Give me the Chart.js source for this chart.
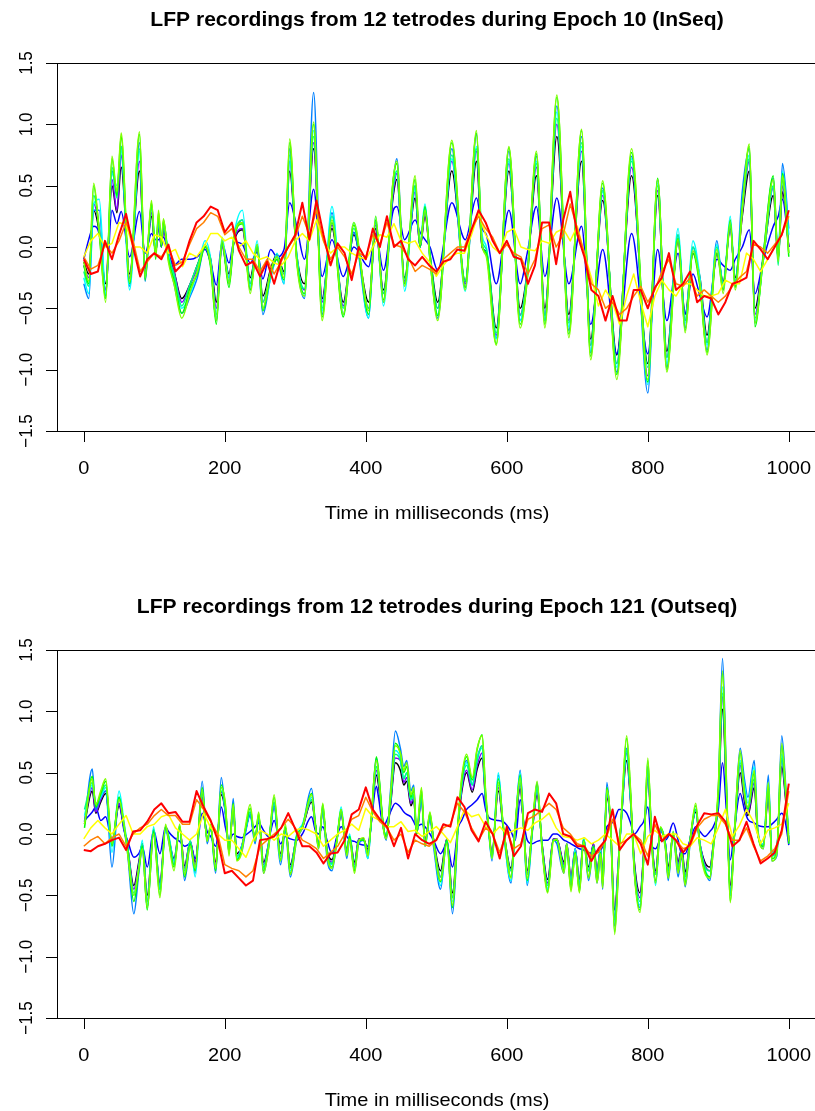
<!DOCTYPE html>
<html>
<head>
<meta charset="utf-8">
<script src="https://cdn.jsdelivr.net/npm/chart.js"></script>
<style>
html, body { margin: 0; padding: 0; background: #fff; overflow: hidden; }
#wrap { position: relative; width: 815px; height: 1111px; overflow: hidden; background: #fff; }
canvas { position: absolute; left: 0; }
</style>
</head>
<body>
<div id="wrap">
    <canvas id="epoch10" width="830" height="587" style="top:0"></canvas>
    <canvas id="epoch121" width="830" height="524" style="top:587px"></canvas>
</div>
<script>
"use strict";

// axis ticks (same on both panels)
const xTicks = [0, 200, 400, 600, 800, 1000]
const yTicks = [-1.5, -1.0, -0.5, 0.0, 0.5, 1.0, 1.5]
const yTickLabels = ['\u22121.5', '\u22121.0', '\u22120.5', '0.0', '0.5', '1.0', '1.5']
const titles = ['LFP recordings from 12 tetrodes during Epoch 10 (InSeq)', 'LFP recordings from 12 tetrodes during Epoch 121 (Outseq)']
const xLabel = 'Time in milliseconds (ms)'

// slow tetrodes (yellow / orange / red) are read every 10 ms
const tSlow = Array.from({ length: 101 }, (_, i) => i * 10)

// ---------- Epoch 10 (InSeq) ----------
// fast tetrodes, read at their turning points
const tFast10 = [0, 7, 14, 22, 31, 40, 47, 53, 65, 79,
    87, 96, 102, 106, 110, 113, 120, 128, 139, 151,
    161, 172, 180, 188, 196, 206, 213, 225, 236, 246,
    254, 265, 274, 284, 292, 302, 313, 326, 338, 352,
    368, 383, 404, 414, 425, 439, 444, 455, 470, 477,
    484, 491, 502, 522, 541, 557, 565, 571, 585, 603,
    619, 629, 642, 654, 671, 688, 706, 719, 736, 756,
    777, 800, 814, 827, 843, 853, 864, 874, 884, 898,
    907, 917, 924, 934, 944, 952, 964, 978, 985, 991,
    1000]
const black10 = [-0.12, -0.22, 0.3, 0.12, -0.3, 0.5, 0.28, 0.65, -0.22, 0.62,
    -0.18, 0.25, -0.05, 0.18, 0.0, 0.14, -0.06, -0.2, -0.42, -0.3,
    -0.15, 0.0, -0.1, -0.45, 0.02, -0.22, 0.04, 0.14, -0.25, 0.0,
    -0.4, -0.18, -0.06, -0.2, 0.62, -0.06, -0.3, 0.8, -0.42, 0.15,
    -0.45, 0.1, -0.45, 0.15, -0.35, 0.42, 0.55, -0.25, 0.4, 0.0,
    0.25, -0.06, -0.45, 0.62, -0.28, 0.7, 0.0, -0.04, -0.66, 0.62,
    -0.5, -0.2, 0.58, -0.5, 0.9, -0.55, 0.7, -0.75, 0.38, -0.88,
    0.58, -0.95, 0.42, -0.85, 0.05, -0.55, -0.05, -0.25, -0.72, -0.05,
    -0.28, 0.15, -0.25, 0.25, 0.62, -0.5, -0.08, 0.42, -0.1, 0.45,
    0.0]
const blue10 = [-0.1, 0.06, 0.17, 0.1, -0.35, 0.3, 0.19, 0.29, -0.08, 0.29,
    -0.05, 0.11, 0.06, 0.06, 0.08, 0.08, -0.05, -0.15, -0.1, -0.1,
    -0.08, -0.02, -0.13, -0.31, 0.03, -0.13, 0.04, 0.02, -0.13, -0.04,
    -0.26, -0.02, -0.08, -0.02, 0.36, 0.17, -0.1, 0.47, -0.24, 0.06,
    -0.24, 0.0, -0.16, 0.11, -0.19, 0.3, 0.33, 0.06, 0.22, 0.12,
    0.06, 0.0, -0.19, 0.36, 0.06, 0.4, 0.15, 0.1, -0.3, 0.3,
    -0.3, -0.05, 0.33, -0.24, 0.4, -0.3, 0.17, -0.63, -0.02, -0.87,
    0.11, -0.87, -0.02, -0.6, -0.05, -0.54, -0.22, -0.4, -0.57, -0.1,
    -0.15, -0.19, -0.1, 0.0, 0.14, -0.38, -0.1, 0.17, 0.25, 0.39,
    0.0]
const purple10 = [-0.15, -0.25, 0.35, 0.15, -0.35, 0.55, 0.3, 0.75, -0.25, 0.7,
    -0.2, 0.28, -0.05, 0.2, 0.0, 0.15, -0.08, -0.2, -0.45, -0.3,
    -0.18, 0.0, -0.12, -0.5, 0.0, -0.25, 0.05, 0.15, -0.3, 0.0,
    -0.45, -0.2, -0.08, -0.22, 0.7, -0.08, -0.35, 0.85, -0.45, 0.18,
    -0.48, 0.12, -0.5, 0.18, -0.38, 0.45, 0.6, -0.28, 0.45, 0.0,
    0.28, -0.08, -0.5, 0.7, -0.3, 0.78, 0.0, -0.05, -0.72, 0.68,
    -0.55, -0.22, 0.65, -0.55, 1.0, -0.6, 0.78, -0.8, 0.42, -0.95,
    0.65, -1.05, 0.46, -0.9, 0.05, -0.6, -0.05, -0.28, -0.78, -0.05,
    -0.3, 0.18, -0.28, 0.28, 0.7, -0.55, -0.08, 0.48, -0.1, 0.5,
    0.0]
const azure10 = [-0.3, -0.42, 0.3, 0.3, -0.4, 0.62, 0.45, 0.82, -0.32, 0.85,
    -0.28, 0.32, -0.05, 0.2, 0.0, 0.18, -0.08, -0.3, -0.54, -0.4,
    -0.25, 0.0, -0.15, -0.6, 0.05, -0.3, 0.05, 0.22, -0.35, 0.0,
    -0.55, -0.25, -0.1, -0.3, 0.8, -0.1, -0.42, 1.26, -0.55, 0.28,
    -0.55, 0.12, -0.58, 0.22, -0.45, 0.55, 0.72, -0.3, 0.5, 0.0,
    0.32, -0.1, -0.58, 0.8, -0.33, 0.92, 0.02, -0.05, -0.74, 0.78,
    -0.6, -0.25, 0.74, -0.6, 1.15, -0.68, 0.9, -0.86, 0.48, -1.02,
    0.74, -1.19, 0.55, -0.98, 0.1, -0.66, 0.0, -0.3, -0.84, 0.05,
    -0.35, 0.2, -0.32, 0.45, 0.8, -0.62, -0.05, 0.56, -0.1, 0.68,
    0.15]
const cyan10 = [-0.25, -0.38, 0.35, 0.39, -0.38, 0.6, 0.5, 0.78, -0.35, 0.78,
    -0.25, 0.35, 0.0, 0.22, 0.05, 0.2, -0.05, -0.25, -0.5, -0.38,
    -0.2, 0.05, -0.1, -0.58, 0.08, -0.25, 0.1, 0.3, -0.32, 0.05,
    -0.5, -0.25, -0.05, -0.3, 0.7, -0.05, -0.4, 0.95, -0.52, 0.33,
    -0.55, 0.2, -0.58, 0.25, -0.48, 0.5, 0.62, -0.36, 0.48, 0.05,
    0.35, -0.1, -0.55, 0.72, -0.36, 0.82, 0.1, 0.0, -0.75, 0.7,
    -0.6, -0.2, 0.7, -0.6, 1.1, -0.65, 0.82, -0.85, 0.45, -0.98,
    0.72, -1.12, 0.52, -0.95, 0.15, -0.62, 0.05, -0.25, -0.8, 0.02,
    -0.32, 0.25, -0.3, 0.35, 0.75, -0.6, -0.1, 0.5, -0.05, 0.62,
    0.1]
const spring10 = [-0.2, -0.32, 0.42, 0.15, -0.4, 0.65, 0.4, 0.82, -0.26, 0.8,
    -0.22, 0.33, -0.06, 0.25, 0.02, 0.2, -0.08, -0.22, -0.48, -0.3,
    -0.15, 0.0, -0.12, -0.55, 0.02, -0.28, 0.08, 0.22, -0.3, 0.02,
    -0.45, -0.2, -0.08, -0.22, 0.75, -0.08, -0.34, 0.9, -0.5, 0.25,
    -0.5, 0.15, -0.5, 0.2, -0.38, 0.5, 0.62, -0.26, 0.5, 0.0,
    0.3, -0.05, -0.5, 0.75, -0.28, 0.8, 0.05, -0.02, -0.7, 0.72,
    -0.56, -0.22, 0.68, -0.56, 1.05, -0.62, 0.85, -0.8, 0.46, -0.95,
    0.7, -0.98, 0.5, -0.9, 0.1, -0.6, 0.0, -0.3, -0.78, 0.0,
    -0.3, 0.18, -0.28, 0.3, 0.72, -0.58, -0.1, 0.5, -0.15, 0.55,
    -0.05]
const green10 = [-0.15, -0.3, 0.5, 0.1, -0.42, 0.72, 0.42, 0.9, -0.3, 0.92,
    -0.27, 0.36, -0.1, 0.28, 0.0, 0.22, -0.1, -0.27, -0.54, -0.33,
    -0.22, 0.0, -0.17, -0.63, 0.04, -0.33, 0.06, 0.19, -0.35, 0.0,
    -0.52, -0.22, -0.1, -0.27, 0.85, -0.1, -0.38, 1.0, -0.57, 0.2,
    -0.57, 0.18, -0.55, 0.22, -0.43, 0.55, 0.68, -0.3, 0.55, 0.0,
    0.33, -0.08, -0.56, 0.85, -0.33, 0.93, 0.0, -0.05, -0.79, 0.81,
    -0.63, -0.27, 0.76, -0.63, 1.22, -0.71, 0.95, -0.89, 0.52, -1.04,
    0.77, -1.1, 0.56, -1.0, 0.07, -0.68, -0.05, -0.33, -0.86, -0.05,
    -0.35, 0.22, -0.33, 0.33, 0.82, -0.65, -0.05, 0.58, -0.1, 0.6,
    -0.08]
const lime10 = [-0.12, -0.28, 0.52, 0.12, -0.45, 0.74, 0.45, 0.93, -0.28, 0.94,
    -0.25, 0.38, -0.08, 0.3, 0.02, 0.23, -0.12, -0.3, -0.58, -0.36,
    -0.2, 0.02, -0.15, -0.6, 0.06, -0.3, 0.08, 0.2, -0.38, 0.02,
    -0.5, -0.2, -0.08, -0.25, 0.88, -0.12, -0.4, 1.02, -0.6, 0.22,
    -0.55, 0.2, -0.52, 0.25, -0.45, 0.56, 0.7, -0.32, 0.58, 0.02,
    0.3, -0.1, -0.6, 0.87, -0.35, 0.95, 0.02, -0.08, -0.8, 0.82,
    -0.66, -0.25, 0.78, -0.66, 1.24, -0.74, 0.96, -0.92, 0.54, -1.08,
    0.8, -1.08, 0.55, -1.02, 0.06, -0.7, -0.03, -0.3, -0.88, -0.02,
    -0.38, 0.2, -0.35, 0.3, 0.84, -0.62, -0.08, 0.55, -0.12, 0.58,
    -0.05]
const yellow10 = [-0.08, 0.05, 0.11, 0.0, 0.03, 0.2, 0.18, 0.0, 0.0, -0.05,
    0.1, 0.08, -0.05, -0.02, -0.16, -0.05, -0.08, 0.0, 0.11, 0.11,
    0.05, 0.08, 0.0, 0.05, -0.05, -0.1, -0.08, -0.13, -0.15, -0.08,
    0.05, 0.11, 0.05, 0.22, 0.05, -0.05, 0.0, 0.0, -0.05, -0.08,
    -0.1, 0.0, 0.1, 0.08, 0.19, 0.05, 0.03, 0.05, -0.05, -0.12,
    -0.24, -0.15, -0.08, -0.05, -0.05, 0.1, 0.28, 0.1, 0.0, -0.05,
    0.12, 0.15, 0.0, -0.02, -0.03, 0.05, 0.03, 0.12, 0.15, 0.05,
    0.17, -0.05, -0.25, -0.48, -0.35, -0.45, -0.63, -0.4, -0.22, -0.45,
    -0.65, -0.4, -0.27, -0.35, -0.4, -0.3, -0.3, -0.35, -0.4, -0.4,
    -0.38, -0.27, -0.3, -0.3, -0.05, -0.1, -0.2, -0.1, 0.0, 0.1,
    0.25]
const orange10 = [-0.08, -0.18, -0.15, 0.02, -0.05, 0.05, 0.2, 0.05, -0.2, -0.12,
    -0.05, -0.08, 0.0, -0.15, -0.12, 0.02, 0.15, 0.2, 0.28, 0.25,
    0.1, 0.15, 0.0, -0.1, -0.1, -0.2, -0.1, -0.22, -0.12, 0.0,
    0.08, 0.25, 0.1, 0.3, 0.05, -0.1, 0.0, -0.08, -0.22, -0.05,
    -0.08, 0.1, 0.02, 0.2, 0.02, 0.0, -0.08, -0.2, -0.15, -0.18,
    -0.22, -0.1, -0.05, 0.0, 0.0, 0.15, 0.25, 0.15, 0.08, -0.05,
    0.02, -0.05, -0.08, -0.22, -0.1, 0.15, 0.18, 0.0, 0.1, 0.35,
    0.15, -0.05, -0.3, -0.35, -0.5, -0.45, -0.55, -0.5, -0.4, -0.32,
    -0.45, -0.35, -0.2, -0.1, -0.3, -0.32, -0.25, -0.4, -0.35, -0.4,
    -0.45, -0.4, -0.32, -0.25, -0.2, 0.02, 0.0, -0.05, 0.02, 0.1,
    0.25]
const red10 = [-0.1, -0.22, -0.2, 0.05, -0.1, 0.1, 0.27, 0.0, -0.24, -0.1,
    -0.05, -0.1, 0.02, -0.2, -0.14, 0.05, 0.2, 0.25, 0.33, 0.3,
    0.12, 0.2, -0.03, -0.15, -0.12, -0.24, -0.12, -0.3, -0.1, 0.0,
    0.1, 0.36, 0.06, 0.38, 0.1, -0.15, 0.03, -0.05, -0.27, 0.0,
    -0.1, 0.15, 0.0, 0.25, 0.0, 0.05, -0.1, -0.15, -0.08, -0.15,
    -0.2, -0.12, -0.1, -0.02, -0.03, 0.14, 0.3, 0.2, 0.05, -0.05,
    0.05, -0.08, -0.1, -0.3, -0.15, 0.2, 0.2, -0.14, 0.22, 0.45,
    0.1, -0.08, -0.35, -0.4, -0.6, -0.4, -0.6, -0.6, -0.35, -0.35,
    -0.5, -0.33, -0.25, -0.05, -0.35, -0.3, -0.2, -0.45, -0.4, -0.42,
    -0.55, -0.45, -0.3, -0.28, -0.25, 0.05, -0.02, -0.1, 0.0, 0.1,
    0.3]

// ---------- Epoch 121 (Outseq) ----------
const tFast121 = [1, 12, 17, 24, 31, 40, 50, 57, 62, 71,
    78, 83, 90, 99, 108, 116, 120, 128, 136, 143,
    151, 158, 168, 175, 180, 187, 195, 201, 206, 212,
    217, 224, 229, 236, 243, 248, 255, 262, 270, 279,
    286, 293, 302, 310, 323, 329, 333, 339, 345, 352,
    359, 365, 373, 377, 384, 390, 397, 403, 407, 415,
    418, 425, 429, 435, 442, 449, 454, 458, 464, 468,
    472, 479, 484, 491, 496, 506, 515, 523, 531, 536,
    543, 551, 558, 565, 570, 574, 579, 588, 595, 606,
    612, 619, 624, 629, 636, 643, 650, 658, 666, 671,
    681, 685, 691, 697, 703, 709, 716, 723, 728, 733,
    736, 742, 747, 753, 759, 763, 770, 775, 781, 789,
    794, 800, 806, 811, 818, 825, 829, 836, 843, 848,
    853, 860, 868, 874, 881, 888, 893, 900, 906, 912,
    917, 923, 931, 937, 942, 951, 956, 964, 971, 976,
    983, 990, 995, 1000]
const black121 = [0.08, 0.35, 0.17, 0.26, 0.33, -0.08, 0.23, 0.05, -0.1, -0.42,
    -0.23, -0.08, -0.5, 0.02, -0.4, 0.05, -0.02, -0.2, 0.05, -0.26,
    -0.06, -0.23, 0.3, -0.04, 0.05, -0.23, 0.32, 0.17, -0.11, 0.19,
    -0.16, -0.1, 0.02, 0.16, -0.04, 0.13, -0.23, -0.08, 0.23, -0.16,
    0.05, -0.25, -0.02, 0.05, 0.26, 0.05, -0.08, 0.19, -0.13, -0.21,
    -0.04, 0.16, -0.13, -0.02, -0.23, -0.04, -0.04, -0.13, 0.05, 0.48,
    0.4, 0.05, -0.02, 0.23, 0.58, 0.52, 0.4, 0.43, 0.23, 0.28,
    0.0, 0.28, -0.06, 0.13, -0.04, -0.3, -0.04, -0.48, 0.08, 0.34,
    0.5, 0.34, 0.53, 0.62, 0.26, 0.05, -0.15, 0.35, 0.05, -0.28,
    0.05, 0.37, 0.05, -0.3, 0.02, 0.32, -0.08, -0.37, -0.04, -0.04,
    -0.23, -0.08, -0.35, -0.12, -0.37, -0.04, -0.27, -0.08, -0.3, -0.12,
    -0.33, 0.3, 0.08, -0.62, -0.16, 0.16, 0.6, 0.31, -0.23, -0.48,
    -0.16, 0.46, -0.08, -0.3, 0.04, -0.08, -0.27, 0.0, -0.23, -0.12,
    -0.31, -0.04, 0.18, -0.08, -0.23, -0.27, -0.08, 0.27, 1.02, 0.23,
    -0.42, 0.0, 0.5, 0.27, 0.15, 0.38, 0.0, -0.08, 0.31, -0.15,
    -0.12, 0.55, 0.31, -0.06]
const blue121 = [0.11, 0.18, 0.22, 0.11, 0.14, -0.05, 0.25, 0.03, -0.05, -0.19,
    -0.16, -0.1, -0.27, 0.03, -0.16, 0.06, 0.02, -0.03, -0.06, -0.1,
    -0.08, -0.2, 0.17, 0.02, -0.02, -0.1, 0.22, 0.05, -0.05, 0.0,
    -0.02, -0.03, -0.01, 0.02, 0.06, 0.09, 0.03, -0.02, 0.11, -0.08,
    -0.02, -0.04, -0.05, 0.0, 0.14, 0.02, 0.0, 0.06, -0.05, -0.16,
    -0.02, 0.06, -0.02, -0.05, -0.06, -0.08, -0.09, -0.1, 0.05, 0.39,
    0.3, 0.06, 0.1, 0.18, 0.25, 0.22, 0.18, 0.16, 0.14, 0.1,
    0.06, 0.08, 0.06, 0.0, -0.05, -0.16, -0.08, -0.27, 0.05, 0.11,
    0.2, 0.24, 0.28, 0.33, 0.2, 0.14, 0.12, 0.11, 0.1, 0.02,
    -0.05, 0.28, 0.1, -0.05, -0.08, -0.06, -0.05, -0.05, 0.0, 0.0,
    -0.05, -0.06, -0.08, -0.1, -0.12, -0.13, -0.15, -0.16, -0.14, -0.13,
    -0.1, 0.06, 0.08, 0.12, 0.2, 0.2, 0.17, 0.1, 0.0, 0.06,
    0.1, 0.22, -0.1, -0.12, -0.05, -0.05, -0.02, 0.09, -0.05, -0.16,
    -0.16, -0.05, 0.06, 0.02, -0.02, 0.02, 0.06, 0.2, 0.58, 0.15,
    -0.21, 0.05, 0.33, 0.2, 0.12, 0.09, 0.07, 0.06, 0.06, 0.08,
    0.12, 0.17, 0.1, -0.09]
const purple121 = [0.1, 0.38, 0.18, 0.28, 0.35, -0.08, 0.25, 0.05, -0.1, -0.45,
    -0.25, -0.08, -0.55, 0.02, -0.42, 0.05, -0.02, -0.22, 0.05, -0.28,
    -0.06, -0.25, 0.32, -0.05, 0.05, -0.25, 0.34, 0.18, -0.12, 0.2,
    -0.18, -0.1, 0.02, 0.17, -0.05, 0.14, -0.25, -0.08, 0.25, -0.18,
    0.05, -0.27, -0.02, 0.05, 0.28, 0.05, -0.08, 0.2, -0.14, -0.23,
    -0.05, 0.17, -0.14, -0.02, -0.25, -0.04, -0.05, -0.14, 0.05, 0.52,
    0.44, 0.05, -0.02, 0.25, 0.62, 0.6, 0.42, 0.46, 0.25, 0.3,
    0.0, 0.3, -0.06, 0.14, -0.04, -0.35, -0.04, -0.52, 0.08, 0.36,
    0.52, 0.36, 0.56, 0.66, 0.28, 0.05, -0.16, 0.38, 0.05, -0.3,
    0.05, 0.4, 0.05, -0.32, 0.02, 0.34, -0.08, -0.4, -0.04, -0.04,
    -0.25, -0.08, -0.38, -0.12, -0.4, -0.04, -0.3, -0.08, -0.32, -0.12,
    -0.36, 0.32, 0.08, -0.68, -0.16, 0.16, 0.66, 0.34, -0.25, -0.52,
    -0.17, 0.5, -0.08, -0.32, 0.04, -0.08, -0.3, 0.0, -0.25, -0.12,
    -0.34, -0.04, 0.2, -0.08, -0.25, -0.3, -0.08, 0.3, 1.12, 0.26,
    -0.46, 0.0, 0.56, 0.3, 0.17, 0.42, 0.0, -0.08, 0.34, -0.17,
    -0.12, 0.6, 0.34, -0.06]
const azure121 = [0.1, 0.53, 0.2, 0.3, 0.35, -0.27, 0.3, 0.05, -0.15, -0.65,
    -0.32, -0.12, -0.6, 0.0, -0.45, 0.05, -0.05, -0.25, 0.05, -0.38,
    -0.1, -0.32, 0.43, -0.08, 0.05, -0.32, 0.46, 0.15, -0.15, 0.29,
    -0.2, -0.15, 0.0, 0.15, -0.08, 0.12, -0.32, -0.12, 0.22, -0.25,
    0.02, -0.35, -0.05, 0.05, 0.37, 0.05, -0.12, 0.2, -0.2, -0.3,
    -0.05, 0.18, -0.2, -0.05, -0.3, -0.08, -0.05, -0.2, 0.05, 0.62,
    0.5, 0.05, -0.05, 0.35, 0.84, 0.7, 0.55, 0.6, 0.35, 0.4,
    0.02, 0.3, -0.1, 0.12, -0.1, -0.45, -0.05, -0.65, 0.05, 0.42,
    0.6, 0.4, 0.62, 0.72, 0.3, 0.05, -0.22, 0.48, 0.05, -0.4,
    0.05, 0.52, 0.05, -0.42, 0.0, 0.42, -0.12, -0.45, -0.05, -0.08,
    -0.32, -0.12, -0.42, -0.18, -0.45, -0.05, -0.38, -0.12, -0.4, -0.18,
    -0.45, 0.42, 0.08, -0.75, -0.2, 0.18, 0.7, 0.35, -0.32, -0.6,
    -0.22, 0.55, -0.12, -0.4, 0.02, -0.12, -0.38, 0.0, -0.35, -0.18,
    -0.43, -0.08, 0.2, -0.12, -0.3, -0.38, -0.12, 0.35, 1.43, 0.35,
    -0.5, 0.02, 0.7, 0.45, 0.3, 0.6, 0.05, -0.12, 0.48, -0.22,
    -0.18, 0.8, 0.45, -0.08]
const cyan121 = [0.15, 0.4, 0.25, 0.3, 0.38, -0.15, 0.35, 0.1, -0.1, -0.5,
    -0.28, -0.05, -0.58, 0.06, -0.45, 0.02, 0.0, -0.22, 0.05, -0.32,
    -0.05, -0.35, 0.35, -0.05, 0.05, -0.28, 0.38, 0.18, -0.12, 0.22,
    -0.2, -0.1, 0.02, 0.18, -0.05, 0.15, -0.28, -0.08, 0.25, -0.22,
    0.05, -0.3, 0.0, 0.08, 0.3, 0.05, -0.08, 0.2, -0.15, -0.25,
    -0.05, 0.22, -0.15, 0.0, -0.28, -0.05, -0.05, -0.2, 0.05, 0.55,
    0.48, 0.05, 0.0, 0.28, 0.68, 0.62, 0.45, 0.5, 0.28, 0.32,
    0.0, 0.32, -0.1, 0.15, -0.05, -0.42, -0.05, -0.55, 0.08, 0.4,
    0.58, 0.4, 0.62, 0.7, 0.3, 0.05, -0.2, 0.5, 0.05, -0.38,
    0.05, 0.5, 0.05, -0.4, 0.02, 0.38, -0.1, -0.45, -0.05, -0.05,
    -0.28, -0.08, -0.4, -0.12, -0.42, -0.03, -0.3, -0.1, -0.35, -0.12,
    -0.4, 0.35, 0.08, -0.72, -0.18, 0.15, 0.68, 0.35, -0.3, -0.58,
    -0.2, 0.52, -0.08, -0.42, 0.05, -0.08, -0.33, 0.02, -0.3, -0.15,
    -0.38, -0.05, 0.2, -0.08, -0.28, -0.35, -0.08, 0.32, 1.2, 0.3,
    -0.5, 0.0, 0.6, 0.4, 0.25, 0.55, 0.02, -0.08, 0.42, -0.15,
    -0.12, 0.65, 0.38, 0.0]
const spring121 = [0.2, 0.42, 0.24, 0.32, 0.4, -0.08, 0.3, 0.08, -0.1, -0.48,
    -0.28, -0.08, -0.55, 0.04, -0.45, 0.06, -0.02, -0.25, 0.06, -0.3,
    -0.06, -0.28, 0.33, -0.05, 0.05, -0.27, 0.35, 0.2, -0.12, 0.2,
    -0.18, -0.12, 0.03, 0.18, -0.05, 0.15, -0.27, -0.1, 0.26, -0.18,
    0.05, -0.28, -0.02, 0.06, 0.28, 0.05, -0.1, 0.22, -0.15, -0.24,
    -0.05, 0.18, -0.15, -0.02, -0.27, -0.05, -0.05, -0.15, 0.05, 0.55,
    0.46, 0.06, -0.02, 0.26, 0.65, 0.6, 0.45, 0.5, 0.28, 0.32,
    0.0, 0.32, -0.08, 0.15, -0.05, -0.35, -0.05, -0.52, 0.1, 0.4,
    0.56, 0.4, 0.6, 0.72, 0.3, 0.06, -0.17, 0.4, 0.06, -0.3,
    0.06, 0.42, 0.06, -0.33, 0.03, 0.36, -0.1, -0.42, -0.05, -0.05,
    -0.27, -0.1, -0.4, -0.15, -0.42, -0.05, -0.3, -0.1, -0.33, -0.15,
    -0.38, 0.33, 0.1, -0.7, -0.2, 0.18, 0.68, 0.36, -0.27, -0.55,
    -0.2, 0.52, -0.1, -0.33, 0.05, -0.1, -0.3, 0.0, -0.27, -0.15,
    -0.35, -0.05, 0.2, -0.1, -0.27, -0.3, -0.1, 0.3, 1.15, 0.28,
    -0.48, 0.0, 0.58, 0.32, 0.2, 0.45, 0.0, -0.1, 0.36, -0.18,
    -0.14, 0.62, 0.36, -0.05]
const green121 = [0.05, 0.47, 0.22, 0.33, 0.43, -0.1, 0.3, 0.06, -0.13, -0.55,
    -0.3, -0.1, -0.62, 0.02, -0.5, 0.06, -0.02, -0.27, 0.07, -0.35,
    -0.08, -0.3, 0.38, -0.05, 0.06, -0.3, 0.4, 0.22, -0.15, 0.25,
    -0.21, -0.13, 0.03, 0.21, -0.05, 0.17, -0.3, -0.1, 0.3, -0.21,
    0.06, -0.32, -0.02, 0.06, 0.33, 0.06, -0.1, 0.24, -0.16, -0.27,
    -0.05, 0.2, -0.16, -0.02, -0.3, -0.05, -0.05, -0.16, 0.06, 0.63,
    0.52, 0.06, -0.02, 0.3, 0.74, 0.66, 0.5, 0.55, 0.3, 0.36,
    0.0, 0.36, -0.08, 0.17, -0.05, -0.39, -0.05, -0.6, 0.1, 0.44,
    0.63, 0.44, 0.69, 0.81, 0.33, 0.06, -0.19, 0.45, 0.06, -0.35,
    0.06, 0.48, 0.06, -0.38, 0.03, 0.41, -0.1, -0.47, -0.05, -0.05,
    -0.3, -0.1, -0.45, -0.15, -0.47, -0.05, -0.35, -0.1, -0.38, -0.15,
    -0.42, 0.38, 0.1, -0.8, -0.2, 0.2, 0.78, 0.4, -0.3, -0.62,
    -0.2, 0.6, -0.1, -0.38, 0.05, -0.1, -0.35, 0.0, -0.3, -0.15,
    -0.4, -0.05, 0.23, -0.1, -0.3, -0.35, -0.1, 0.35, 1.31, 0.3,
    -0.55, 0.0, 0.66, 0.35, 0.2, 0.5, 0.0, -0.1, 0.4, -0.2,
    -0.15, 0.72, 0.4, -0.08]
const lime121 = [0.08, 0.45, 0.24, 0.35, 0.45, -0.08, 0.28, 0.08, -0.15, -0.5,
    -0.28, -0.12, -0.6, 0.0, -0.52, 0.08, -0.04, -0.3, 0.08, -0.33,
    -0.1, -0.28, 0.36, -0.06, 0.08, -0.28, 0.38, 0.24, -0.18, 0.24,
    -0.22, -0.15, 0.05, 0.24, -0.06, 0.18, -0.32, -0.12, 0.32, -0.22,
    0.08, -0.33, -0.04, 0.05, 0.32, 0.04, -0.12, 0.25, -0.17, -0.28,
    -0.06, 0.2, -0.18, -0.04, -0.32, -0.06, -0.03, -0.18, 0.08, 0.6,
    0.5, 0.04, -0.04, 0.32, 0.72, 0.66, 0.52, 0.58, 0.32, 0.38,
    0.02, 0.38, -0.1, 0.18, -0.06, -0.38, -0.08, -0.58, 0.12, 0.46,
    0.65, 0.46, 0.7, 0.8, 0.35, 0.08, -0.2, 0.42, 0.08, -0.36,
    0.08, 0.46, 0.04, -0.36, 0.05, 0.43, -0.12, -0.48, -0.06, -0.04,
    -0.32, -0.08, -0.47, -0.16, -0.48, -0.06, -0.36, -0.12, -0.4, -0.16,
    -0.44, 0.36, 0.12, -0.82, -0.22, 0.22, 0.8, 0.42, -0.32, -0.64,
    -0.22, 0.62, -0.12, -0.4, 0.06, -0.12, -0.36, 0.02, -0.32, -0.16,
    -0.42, -0.06, 0.25, -0.12, -0.32, -0.36, -0.12, 0.38, 1.33, 0.32,
    -0.56, 0.02, 0.68, 0.34, 0.22, 0.52, 0.02, -0.12, 0.42, -0.22,
    -0.16, 0.74, 0.42, -0.06]
const yellow121 = [-0.04, 0.05, 0.11, 0.05, 0.0, 0.08, 0.15, 0.0, 0.0, 0.06,
    0.08, 0.14, 0.16, 0.05, 0.0, -0.05, 0.0, 0.17, 0.05, 0.0,
    -0.05, -0.05, -0.12, -0.19, -0.05, 0.03, 0.0, -0.05, 0.0, -0.02,
    0.03, 0.05, 0.03, 0.0, -0.1, -0.05, 0.0, 0.03, 0.08, 0.03,
    0.21, 0.14, 0.11, 0.06, 0.06, 0.1, 0.02, 0.03, -0.02, 0.02,
    0.06, 0.0, -0.07, 0.06, 0.2, 0.14, 0.16, 0.06, 0.0, 0.06,
    0.0, 0.03, 0.05, 0.03, 0.09, 0.12, 0.17, 0.05, -0.02, -0.03,
    -0.05, -0.03, -0.08, -0.05, 0.0, -0.05, -0.1, 0.0, 0.0, -0.16,
    -0.02, 0.03, -0.02, 0.0, 0.0, -0.08, -0.1, -0.03, -0.05, -0.08,
    0.05, 0.2, -0.02, 0.07, 0.2, 0.1, -0.08, 0.03, 0.05, 0.08,
    0.25]
const orange121 = [-0.1, -0.05, -0.02, -0.08, -0.03, 0.0, -0.1, 0.0, 0.05, 0.08,
    0.15, 0.2, 0.15, 0.15, 0.08, 0.08, 0.28, 0.2, 0.1, 0.0,
    -0.25, -0.28, -0.3, -0.35, -0.3, -0.1, -0.05, 0.0, 0.05, 0.12,
    0.05, -0.05, -0.08, -0.12, -0.2, -0.15, -0.1, 0.0, 0.12, 0.15,
    0.3, 0.18, 0.1, 0.05, -0.05, 0.0, -0.15, -0.05, -0.08, -0.1,
    -0.05, 0.05, 0.08, 0.25, 0.18, 0.05, -0.05, 0.05, 0.0, -0.15,
    0.02, -0.12, -0.08, 0.12, 0.15, 0.2, 0.25, 0.2, 0.05, 0.0,
    -0.08, -0.1, -0.18, -0.15, -0.05, 0.12, -0.08, -0.05, 0.0, -0.05,
    -0.18, 0.08, -0.05, 0.0, -0.05, -0.12, -0.1, 0.05, 0.12, 0.15,
    0.15, 0.08, -0.05, -0.05, 0.05, -0.1, -0.22, -0.18, -0.12, 0.0,
    0.35]
const red121 = [-0.13, -0.14, -0.1, -0.08, -0.05, -0.03, -0.13, 0.02, 0.03, 0.1,
    0.2, 0.25, 0.17, 0.18, 0.1, 0.1, 0.35, 0.22, 0.11, -0.05,
    -0.32, -0.3, -0.36, -0.42, -0.38, -0.05, -0.04, -0.02, 0.05, 0.17,
    0.04, -0.1, -0.1, -0.15, -0.24, -0.16, -0.15, -0.05, 0.16, 0.2,
    0.38, 0.2, 0.12, 0.06, -0.1, 0.05, -0.2, 0.0, -0.05, -0.08,
    -0.05, 0.08, 0.06, 0.3, 0.22, 0.03, -0.06, 0.1, 0.0, -0.2,
    0.06, -0.18, -0.1, 0.17, 0.2, 0.18, 0.33, 0.25, 0.0, -0.02,
    -0.1, -0.1, -0.22, -0.12, -0.05, 0.2, -0.13, -0.05, 0.0, -0.08,
    -0.25, 0.14, -0.06, 0.0, -0.05, -0.15, -0.08, 0.07, 0.17, 0.16,
    0.17, 0.1, -0.1, -0.05, 0.1, -0.08, -0.24, -0.2, -0.15, 0.03,
    0.41]

// tetrode colours, in the order R draws them (last one ends up on top)
const palette = {
    black: '#000000', blue: '#0000FF', purple: '#8000FF', azure: '#0080FF',
    cyan: '#00FFFF', spring: '#00FF80', green: '#00FF00', lime: '#80FF00',
    yellow: '#FFFF00', orange: '#FF8000', red: '#FF0000'
}
const widths = { yellow: 1.5, orange: 1.5, red: 2 }
const slow = ['yellow', 'orange', 'red']   // jagged traces: plain straight segments

const panels = [
    {
        id: 'epoch10', title: titles[0],
        series: [
            ['black', tFast10, black10], ['blue', tFast10, blue10], ['purple', tFast10, purple10],
            ['azure', tFast10, azure10], ['cyan', tFast10, cyan10], ['spring', tFast10, spring10],
            ['green', tFast10, green10], ['lime', tFast10, lime10], ['yellow', tSlow, yellow10],
            ['orange', tSlow, orange10], ['red', tSlow, red10]
        ]
    },
    {
        id: 'epoch121', title: titles[1],
        series: [
            ['black', tFast121, black121], ['blue', tFast121, blue121], ['purple', tFast121, purple121],
            ['azure', tFast121, azure121], ['cyan', tFast121, cyan121], ['spring', tFast121, spring121],
            ['green', tFast121, green121], ['lime', tFast121, lime121], ['yellow', tSlow, yellow121],
            ['orange', tSlow, orange121], ['red', tSlow, red121]
        ]
    }
]

const FONT = '"Liberation Sans", Arial, Helvetica, sans-serif'
const STRETCH = 1.08   // the reference is a little wider than tall

const drawText = (ctx, text, x, y, font, align) => {
    ctx.save()
    ctx.translate(x, y)
    ctx.scale(STRETCH, 1)
    ctx.font = font
    ctx.textAlign = align
    ctx.textBaseline = 'alphabetic'
    ctx.fillText(text, 0, 0)
    ctx.restore()
}

// base-R look: box, outward ticks, rotated y labels, bold title
const rAxes = {
    id: 'rAxes',
    afterDraw(chart, args, opts) {
        const { ctx, chartArea: a, scales: { x, y } } = chart
        ctx.save()
        ctx.strokeStyle = '#000'
        ctx.fillStyle = '#000'
        ctx.lineWidth = 1
        ctx.strokeRect(Math.round(a.left) + 0.5, Math.round(a.top) + 0.5, a.right - a.left, a.bottom - a.top)

        ctx.beginPath()
        xTicks.forEach(v => {
            const px = Math.round(x.getPixelForValue(v)) + 0.5
            ctx.moveTo(px, a.bottom)
            ctx.lineTo(px, a.bottom + 11)
        })
        yTicks.forEach(v => {
            const py = Math.round(y.getPixelForValue(v)) + 0.5
            ctx.moveTo(a.left, py)
            ctx.lineTo(a.left - 11, py)
        })
        ctx.stroke()

        xTicks.forEach(v => drawText(ctx, String(v), x.getPixelForValue(v), a.bottom + 43, '18.5px ' + FONT, 'center'))

        yTicks.forEach((v, i) => {
            ctx.save()
            ctx.translate(32, y.getPixelForValue(v))
            ctx.rotate(-Math.PI / 2)
            ctx.scale(1, STRETCH)
            ctx.font = '17px ' + FONT
            ctx.textAlign = 'center'
            ctx.textBaseline = 'alphabetic'
            ctx.fillText(yTickLabels[i], 0, 0)
            ctx.restore()
        })

        const mid = (a.left + a.right) / 2
        drawText(ctx, opts.title, mid, 25.5, 'bold 19.5px ' + FONT, 'center')
        drawText(ctx, xLabel, mid, a.bottom + 88, '18.5px ' + FONT, 'center')
        ctx.restore()
    }
}

const makeChart = ({ id, title, series }) => {
    const canvas = document.getElementById(id)
    const datasets = series.map(([name, ts, vs]) => ({
        label: name,
        data: ts.map((t, i) => ({ x: t, y: vs[i] })),
        borderColor: palette[name],
        borderWidth: widths[name] || 1.5,
        borderJoinStyle: 'round',
        cubicInterpolationMode: slow.includes(name) ? 'default' : 'monotone',
        tension: 0,
        pointRadius: 0,
        fill: false
    })).reverse()   // Chart.js paints dataset 0 last

    return new Chart(canvas, {
        type: 'line',
        data: { datasets },
        options: {
            responsive: false,
            animation: false,
            devicePixelRatio: 1,
            layout: { padding: { left: 57, top: 63, right: 13, bottom: canvas.height - 431 } },
            plugins: { legend: { display: false }, tooltip: { enabled: false }, rAxes: { title } },
            scales: {
                x: { type: 'linear', display: false, min: -38, max: 1040 },
                y: { type: 'linear', display: false, min: -1.5, max: 1.5 }
            }
        },
        plugins: [rAxes]
    })
}

panels.forEach(makeChart)
</script>
</body>
</html>
